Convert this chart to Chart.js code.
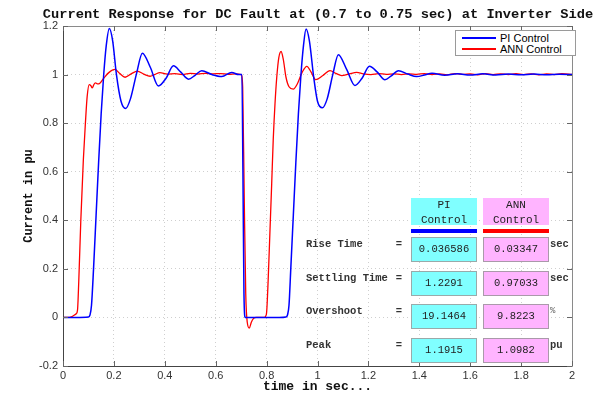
<!DOCTYPE html>
<html>
<head>
<meta charset="utf-8">
<script src="https://cdn.jsdelivr.net/npm/chart.js@4/dist/chart.umd.min.js"></script>
<style>
  body { margin: 0; background: #fff; }
  #wrap { position: relative; width: 600px; height: 394px; overflow: hidden; }
  #wrap canvas { position: absolute; left: 0; top: 0; }
  .txt { position: absolute; white-space: nowrap; font-family: "Liberation Mono", monospace; color: #111; }
  #titulo { left: 318px; top: 7px; transform: translateX(-50%); font-size: 13.7px; font-weight: bold; }
  #legenda { position: absolute; left: 455px; top: 30px; width: 121px; height: 26px; box-sizing: border-box;
             border: 1px solid #9a9a9a; background: #fff; font-family: "Liberation Sans", Arial, sans-serif; font-size: 11px; }
  #legenda div { position: absolute; left: 0; height: 12px; line-height: 12px; }
  #legenda span.linha { position: absolute; left: 6px; width: 34px; height: 2px; }
  #legenda span.nome { position: absolute; left: 44px; top: 0; }
  .cel { position: absolute; box-sizing: border-box; text-align: center; font-family: "Liberation Mono", monospace; font-size: 10.5px; color: #222; }
</style>
</head>
<body>
<div id="wrap">
  <canvas id="grafico" width="600" height="394"></canvas>
  <div id="titulo" class="txt">Current Response for DC Fault at (0.7 to 0.75 sec) at Inverter Side</div>
  <div id="legenda"></div>
  <div id="tabela"></div>
</div>
<script>
// === Dados ===
const piTime = [0, 0.05, 0.1, 0.106, 0.112, 0.12, 0.13, 0.14, 0.15, 0.16,
  0.17, 0.182, 0.195, 0.21, 0.228, 0.246, 0.265, 0.288, 0.312, 0.343,
  0.375, 0.405, 0.434, 0.463, 0.493, 0.519, 0.545, 0.585, 0.624, 0.663,
  0.69, 0.703, 0.707, 0.711, 0.716, 0.75, 0.8, 0.85, 0.876, 0.882,
  0.888, 0.895, 0.905, 0.915, 0.925, 0.935, 0.945, 0.955, 0.968, 0.985,
  1.0, 1.019, 1.038, 1.06, 1.082, 1.115, 1.147, 1.175, 1.204, 1.235,
  1.265, 1.29, 1.318, 1.355, 1.39, 1.42, 1.45, 1.5, 1.55, 1.6,
  1.65, 1.7, 1.75, 1.8, 1.85, 1.9, 1.95, 2.0];
const piCurrent = [0, 0, 0.002, 0.01, 0.05, 0.2, 0.42, 0.64, 0.84, 1.0,
  1.12, 1.19, 1.14, 1.0, 0.89, 0.86, 0.9, 1.0, 1.088, 1.03,
  0.953, 0.985, 1.036, 1.01, 0.981, 0.997, 1.016, 1.0, 0.992, 1.009,
  1.0, 1.0, 0.6, 0.1, 0.0, 0, 0, 0, 0.002, 0.01,
  0.05, 0.2, 0.42, 0.64, 0.84, 1.0, 1.12, 1.188, 1.14, 0.99,
  0.89, 0.863, 0.9, 1.0, 1.082, 1.02, 0.955, 0.985, 1.034, 1.01,
  0.979, 0.995, 1.016, 1.002, 0.992, 0.998, 1.005, 0.997, 1.003, 0.998,
  1.003, 0.998, 1.002, 0.999, 1.002, 0.999, 1.001, 1.0];

const annTime = [0, 0.025, 0.035, 0.045, 0.052, 0.057, 0.062, 0.07, 0.08, 0.088,
  0.095, 0.103, 0.109, 0.115, 0.121, 0.127, 0.135, 0.143, 0.16, 0.18,
  0.204, 0.222, 0.244, 0.268, 0.292, 0.317, 0.342, 0.36, 0.381, 0.41,
  0.44, 0.47, 0.5, 0.53, 0.56, 0.59, 0.62, 0.65, 0.68, 0.7,
  0.706, 0.712, 0.718, 0.724, 0.732, 0.74, 0.748, 0.76, 0.79, 0.796,
  0.8, 0.806, 0.813, 0.82, 0.826, 0.833, 0.84, 0.848, 0.857, 0.866,
  0.876, 0.888, 0.905, 0.92, 0.94, 0.958, 0.975, 0.993, 1.02, 1.049,
  1.072, 1.095, 1.125, 1.154, 1.18, 1.21, 1.24, 1.27, 1.3, 1.33,
  1.36, 1.39, 1.42, 1.45, 1.48, 1.51, 1.54, 1.57, 1.6, 1.63,
  1.66, 1.69, 1.72, 1.75, 1.78, 1.81, 1.84, 1.87, 1.9, 1.93,
  1.96, 2.0];
const annCurrent = [0, 0, 0.003, 0.01, 0.015, 0.03, 0.15, 0.4, 0.65, 0.8,
  0.91, 0.959, 0.955, 0.945, 0.958, 0.966, 0.962, 0.963, 0.985, 1.008,
  1.021, 1.005, 0.989, 1.003, 1.014, 1.002, 0.993, 1.0, 1.008, 1.002,
  1.004, 1.0, 1.005, 1.002, 1.005, 1.003, 1.004, 1.001, 1.003, 1.0,
  0.95, 0.5, 0.1, -0.02, -0.044, -0.02, -0.005, 0, 0, 0.005,
  0.02, 0.15, 0.35, 0.55, 0.73, 0.88, 0.99, 1.07, 1.095, 1.06,
  0.99, 0.95, 0.94, 0.96, 1.01, 1.034, 1.01, 0.979, 0.995, 1.016,
  1.005, 0.996, 1.003, 1.009, 1.003, 1.0, 1.004, 1.001, 1.003, 1.0,
  1.003, 1.001, 1.004, 1.0, 1.003, 0.999, 1.004, 1.001, 1.003, 0.999,
  1.004, 1.0, 1.003, 1.0, 1.004, 1.0, 1.003, 0.999, 1.003, 1.0,
  1.004, 1.001];

const xTickValues = [0, 0.2, 0.4, 0.6, 0.8, 1, 1.2, 1.4, 1.6, 1.8, 2];
const yTickValues = [-0.2, 0, 0.2, 0.4, 0.6, 0.8, 1, 1.2];

const seriesNames = ["PI Control", "ANN Control"];
const seriesColors = ["#0000ff", "#ff0000"];

// tabela de desempenho
const metricNames = ["Rise Time", "Settling Time", "Overshoot", "Peak"];
const piMetrics = ["0.036586", "1.2291", "19.1464", "1.1915"];
const annMetrics = ["0.03347", "0.97033", "9.8223", "1.0982"];
const metricUnits = ["sec", "sec", "%", "pu"];

document.addEventListener("DOMContentLoaded", () => {
  const fmt = (v) => String(Math.round(v * 10) / 10);

  // moldura com ticks para dentro (estilo MATLAB)
  const molduraPlugin = {
    id: "moldura",
    afterDatasetsDraw(chart) {
      const { ctx, chartArea: a, scales } = chart;
      ctx.save();
      ctx.lineWidth = 1;
      ctx.strokeStyle = "#8a8a8a";
      ctx.beginPath();
      ctx.moveTo(a.left, a.top + 0.5);
      ctx.lineTo(a.right + 0.5, a.top + 0.5);
      ctx.lineTo(a.right + 0.5, a.bottom);
      ctx.stroke();
      ctx.strokeStyle = "#444";
      ctx.beginPath();
      ctx.moveTo(a.left + 0.5, a.top);
      ctx.lineTo(a.left + 0.5, a.bottom + 0.5);
      ctx.lineTo(a.right + 0.5, a.bottom + 0.5);
      ctx.stroke();
      ctx.strokeStyle = "#666";
      ctx.beginPath();
      xTickValues.forEach((v) => {
        const px = Math.round(scales.x.getPixelForValue(v)) + 0.5;
        ctx.moveTo(px, a.bottom); ctx.lineTo(px, a.bottom - 5);
        ctx.moveTo(px, a.top); ctx.lineTo(px, a.top + 5);
      });
      yTickValues.forEach((v) => {
        const py = Math.round(scales.y.getPixelForValue(v)) + 0.5;
        ctx.moveTo(a.left, py); ctx.lineTo(a.left + 5, py);
        ctx.moveTo(a.right, py); ctx.lineTo(a.right - 5, py);
      });
      ctx.stroke();
      ctx.restore();
    },
  };

  const toPoints = (xs, ys) => xs.map((x, i) => ({ x: x, y: ys[i] }));

  const ctx = document.getElementById("grafico");
  new Chart(ctx, {
    type: "line",
    data: {
      datasets: [
        {
          label: seriesNames[0],
          data: toPoints(piTime, piCurrent),
          borderColor: seriesColors[0],
          borderWidth: 1.5,
          pointRadius: 0,
          cubicInterpolationMode: "monotone",
        },
        {
          label: seriesNames[1],
          data: toPoints(annTime, annCurrent),
          borderColor: seriesColors[1],
          borderWidth: 1.3,
          pointRadius: 0,
          cubicInterpolationMode: "monotone",
        },
      ],
    },
    options: {
      responsive: false,
      animation: false,
      layout: { padding: { left: 0, right: 28, top: 26, bottom: 0 } },
      plugins: { legend: { display: false }, tooltip: { enabled: false } },
      scales: {
        x: {
          type: "linear",
          min: 0,
          max: 2,
          afterBuildTicks: (s) => { s.ticks = xTickValues.map((v) => ({ value: v })); },
          afterFit: (s) => { s.height = 28; },
          grid: { color: "#cfcfcf", drawTicks: false },
          border: { display: false, dash: [1, 3] },
          ticks: {
            padding: 3,
            color: "#333",
            font: { family: "Liberation Sans", size: 11 },
            maxRotation: 0,
            callback: (v) => fmt(v),
          },
          title: {
            display: true,
            text: "time in sec...",
            color: "#111",
            font: { family: "Liberation Mono", size: 13, weight: "bold", lineHeight: 1 },
            padding: { top: 0, bottom: 1 },
          },
        },
        y: {
          min: -0.2,
          max: 1.2,
          afterBuildTicks: (s) => { s.ticks = yTickValues.map((v) => ({ value: v })); },
          afterFit: (s) => { s.width = 63; },
          grid: { color: "#cfcfcf", drawTicks: false },
          border: { display: false, dash: [1, 3] },
          ticks: {
            padding: 5,
            color: "#333",
            font: { family: "Liberation Sans", size: 11 },
            callback: (v) => fmt(v),
          },
          title: {
            display: true,
            text: "Current in pu",
            color: "#111",
            font: { family: "Liberation Mono", size: 12, weight: "bold" },
            padding: { top: 22, bottom: 0 },
          },
        },
      },
    },
    plugins: [molduraPlugin],
  });

  // === Legenda ===
  const legenda = document.getElementById("legenda");
  seriesNames.forEach((nome, i) => {
    const item = document.createElement("div");
    item.style.top = (i === 0 ? 1 : 12) + "px";
    item.style.width = "100%";
    item.innerHTML =
      '<span class="linha" style="top:5px;background:' + seriesColors[i] + '"></span>' +
      '<span class="nome">' + nome + "</span>";
    legenda.appendChild(item);
  });

  // === Tabela ===
  const tabela = document.getElementById("tabela");
  const addBox = (left, top, w, h, html, style) => {
    const el = document.createElement("div");
    el.className = "cel";
    el.style.cssText += "left:" + left + "px;top:" + top + "px;width:" + w + "px;height:" + h + "px;" + (style || "");
    el.innerHTML = html;
    tabela.appendChild(el);
  };
  const cyan = "#80ffff";
  const pink = "#ffb4ff";
  addBox(411, 198, 66, 27, "PI<br>Control", "background:" + cyan + ";line-height:15px;font-size:11px;");
  addBox(483, 198, 66, 27, "ANN<br>Control", "background:" + pink + ";line-height:15px;font-size:11px;");
  addBox(411, 229, 66, 4, "", "background:" + seriesColors[0] + ";");
  addBox(483, 229, 66, 4, "", "background:" + seriesColors[1] + ";");

  const rowTops = [237, 271, 304, 338];
  metricNames.forEach((nome, i) => {
    const top = rowTops[i];
    addBox(306, top + 1, 90, 13, nome, "text-align:left;font-weight:bold;color:#333;line-height:13px;");
    addBox(395, top + 1, 8, 13, "=", "font-weight:bold;color:#333;line-height:13px;");
    addBox(411, top, 66, 25, piMetrics[i], "background:" + cyan + ";border:1px solid #9aa;line-height:23px;");
    addBox(483, top, 66, 25, annMetrics[i], "background:" + pink + ";border:1px solid #a9a;line-height:23px;");
    const unitStyle = metricUnits[i] === "%"
      ? "text-align:left;font-size:9px;color:#666;line-height:13px;"
      : "text-align:left;font-weight:bold;color:#333;line-height:13px;";
    addBox(550, top + 1, 24, 13, metricUnits[i], unitStyle);
  });
});
</script>
</body>
</html>
